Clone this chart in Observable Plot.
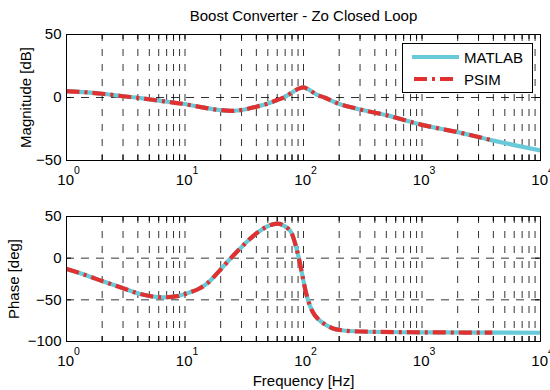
<!DOCTYPE html>
<html><head><meta charset="utf-8">
<script src="https://cdn.jsdelivr.net/npm/d3@7"></script>
<script src="https://cdn.jsdelivr.net/npm/@observablehq/plot@0.6"></script>
<style>
body{margin:0;background:#fff;}
#wrap{position:relative;width:550px;height:390px;font-family:"Liberation Sans",Arial,Helvetica,sans-serif;overflow:hidden;}
#wrap svg{display:block;}
#legend{position:absolute;left:402px;top:43px;width:131px;height:50px;box-sizing:border-box;border:1px solid #000;background:#fff;}
</style></head><body><div id="wrap"></div>
<script>
// ---- data ----
const magFreq = [1, 1.5, 2, 3, 4.2, 6, 9.5, 14, 19, 25, 32, 40, 50, 60, 70, 80, 90, 100, 110, 128, 150, 193, 300, 500, 1000, 2000, 3920, 6000, 10000];
const matlabMag = [5, 4, 3, 1, -0.5, -2.5, -5, -7.8, -9.8, -10.6, -9.5, -7.3, -4.8, -2, 0.5, 4, 6.8, 8, 6.5, 2.5, 0, -4.5, -9.5, -14, -21.7, -27.5, -34, -37.8, -42];
const psimMagFreq = [1, 1.5, 2, 3, 4.2, 6, 9.5, 14, 19, 25, 32, 40, 50, 60, 70, 80, 90, 100, 110, 128, 150, 193, 300, 500, 1000, 2000, 3920];
const psimMag = [5, 4, 3, 1, -0.5, -2.5, -5, -7.8, -9.8, -10.6, -9.5, -7.3, -4.8, -2, 0.5, 4, 6.8, 8, 6.5, 2.5, 0, -4.5, -9.5, -14, -21.7, -27.5, -34];

const phaseFreq = [1, 1.5, 2, 3, 4.2, 6.5, 8.6, 11, 13, 15.5, 19, 24, 28.5, 34, 43, 52, 60, 70, 80, 86, 91, 97, 104, 112, 120, 135, 150, 175, 210, 300, 1000, 10000];
const matlabPhase = [-13, -21, -27.5, -36, -43, -47, -45.5, -41, -37, -30, -17, -1, 10, 21, 33, 39.5, 41.5, 38, 29, 15, 1, -18, -39, -55, -65, -74, -79, -84, -86.5, -88, -89, -89.5];
const psimPhaseFreq = [1, 1.5, 2, 3, 4.2, 6.5, 8.6, 11, 13, 15.5, 19, 24, 28.5, 34, 43, 52, 60, 70, 80, 86, 91, 97, 104, 112, 120, 135, 150, 175, 210, 300, 1000, 3920];
const psimPhase = [-13, -21, -27.5, -36, -43, -47, -45.5, -41, -37, -30, -17, -1, 10, 21, 33, 39.5, 41.5, 38, 29, 15, 1, -18, -39, -55, -65, -74, -79, -84, -86.5, -88, -89, -89.3];

const decades = [1, 10, 100, 1000, 10000];
const decadeBase = "10";
const decadeExp = ["0", "1", "2", "3", "4"];
const minorMult = [1, 2, 3, 4, 5, 6, 7, 8, 9];
const gridFreqs = [1, 10, 100, 1000].flatMap(d => minorMult.map(k => k * d)).concat([10000]);
const magTicks = [-50, 0, 50];
const magGrid = [0];
const phaseTicks = [-100, -50, 0, 50];
const phaseGrid = [-50, 0];

const titleText = "Boost Converter - Zo Closed Loop";
const magLabel = "Magnitude [dB]";
const phaseLabel = "Phase [deg]";
const xLabel = "Frequency [Hz]";
const seriesNames = ["MATLAB", "PSIM"];

// ---- style ----
const CYAN = "#68cad9";
const RED = "#e0302f";
const DASHDOT = "13,5,3,5";
const VGRIDDASH = "7,8";
const HGRIDDASH = "8,7";
const FONT = '"Liberation Sans", Arial, Helvetica, sans-serif';

const zip = (xs, ys) => xs.map((x, i) => ({x, y: ys[i]}));
const tickLabels = decades.map((d, i) => ({x: d, base: decadeBase, exp: decadeExp[i]}));

function panel({height, marginTop, marginBottom, yDomain, yTicks, yGrid, matlab, psim, ylab, ylabDx, extra}) {
  const frameW = 550 - 66 - 10;
  const frameH = height - marginTop - marginBottom;
  return Plot.plot({
    width: 550, height, marginLeft: 66, marginRight: 10, marginTop, marginBottom,
    style: {fontFamily: FONT, fontSize: "15px", color: "#000", background: "transparent", overflow: "visible"},
    x: {type: "log", domain: [1, 10000], axis: null},
    y: {domain: yDomain},
    marks: [
      Plot.ruleX(gridFreqs, {x: d => d, stroke: "#000", strokeWidth: 0.8, strokeDasharray: VGRIDDASH}),
      Plot.ruleY(yGrid, {y: d => d, stroke: "#000", strokeWidth: 0.8, strokeDasharray: HGRIDDASH}),
      Plot.tickX(gridFreqs, {x: d => d, insetTop: frameH - 5, stroke: "#000", strokeWidth: 1}),
      Plot.tickX(gridFreqs, {x: d => d, insetBottom: frameH - 5, stroke: "#000", strokeWidth: 1}),
      Plot.tickY(yTicks, {y: d => d, insetRight: frameW - 5, stroke: "#000", strokeWidth: 1}),
      Plot.tickY(yTicks, {y: d => d, insetLeft: frameW - 5, stroke: "#000", strokeWidth: 1}),
      Plot.line(matlab, {x: "x", y: "y", stroke: CYAN, strokeWidth: 4.2, curve: "monotone-x", clip: true}),
      Plot.line(psim, {x: "x", y: "y", stroke: RED, strokeWidth: 4.2, strokeDasharray: DASHDOT, strokeLinecap: "butt", curve: "monotone-x", clip: true}),
      Plot.frame({stroke: "#000", strokeWidth: 1}),
      Plot.axisY(yTicks, {tickSize: 0, tickPadding: 5, label: null, fontSize: 15}),
      Plot.text(tickLabels, {x: "x", frameAnchor: "bottom", text: "base", textAnchor: "end", lineAnchor: "middle", dx: 7.5, dy: 19.2, fontSize: 15}),
      Plot.text(tickLabels, {x: "x", frameAnchor: "bottom", text: "exp", textAnchor: "start", lineAnchor: "middle", dx: 7.5, dy: 10.6, fontSize: 10.5}),
      Plot.text([ylab], {frameAnchor: "left", rotate: -90, textAnchor: "middle", lineAnchor: "middle", dx: ylabDx, fontSize: 15}),
      ...extra
    ]
  });
}

const wrap = document.getElementById("wrap");

const magPlot = panel({
  height: 190, marginTop: 34, marginBottom: 30,
  yDomain: [-50, 50], yTicks: magTicks, yGrid: magGrid,
  matlab: zip(magFreq, matlabMag), psim: zip(psimMagFreq, psimMag),
  ylab: magLabel, ylabDx: -40,
  extra: [Plot.text([titleText], {frameAnchor: "top", textAnchor: "middle", lineAnchor: "middle", dy: -18, fontSize: 15})]
});
wrap.appendChild(magPlot);

const phasePlot = panel({
  height: 200, marginTop: 26, marginBottom: 49,
  yDomain: [-100, 50], yTicks: phaseTicks, yGrid: phaseGrid,
  matlab: zip(phaseFreq, matlabPhase), psim: zip(psimPhaseFreq, psimPhase),
  ylab: phaseLabel, ylabDx: -52,
  extra: [Plot.text([xLabel], {frameAnchor: "bottom", textAnchor: "middle", lineAnchor: "middle", dy: 40, fontSize: 15})]
});
wrap.appendChild(phasePlot);

// legend (top panel)
const legend = document.createElement("div");
legend.id = "legend";
legend.innerHTML = `<svg width="129" height="48" style="font-family:${FONT.replace(/"/g, "'")};font-size:15px">
  <line x1="9" x2="56" y1="13" y2="13" stroke="${CYAN}" stroke-width="4.2"/>
  <text x="61" y="18.5">${seriesNames[0]}</text>
  <line x1="9" x2="51" y1="35" y2="35" stroke="${RED}" stroke-width="4.2" stroke-dasharray="${DASHDOT}" stroke-dashoffset="-2"/>
  <text x="61" y="40.5">${seriesNames[1]}</text>
</svg>`;
wrap.appendChild(legend);
</script>
</body></html>
